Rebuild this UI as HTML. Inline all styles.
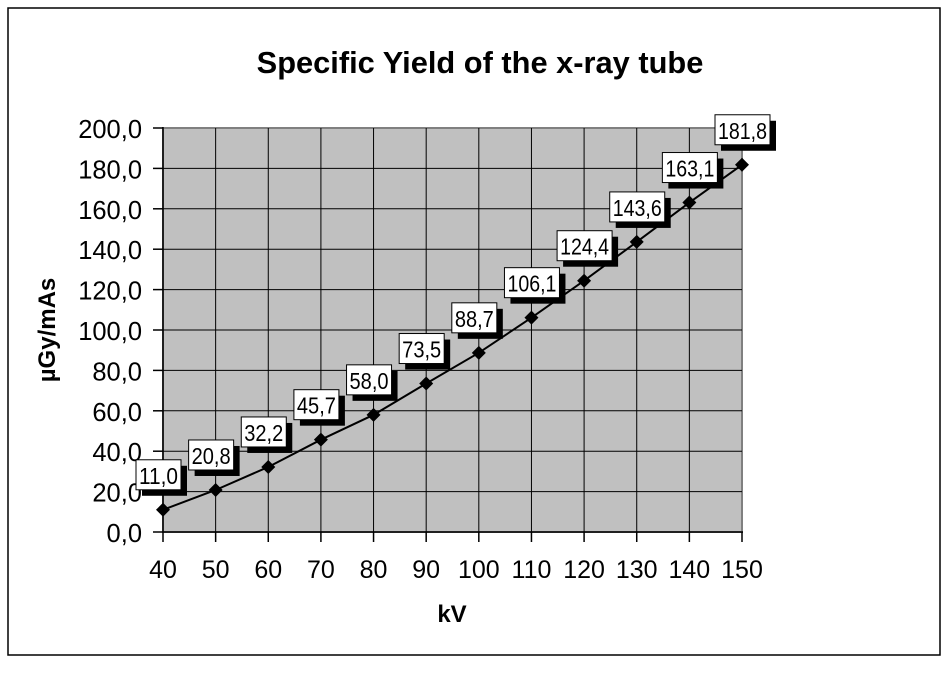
<!DOCTYPE html>
<html><head><meta charset="utf-8"><style>
body{margin:0;background:#fff;width:947px;height:668px;overflow:hidden}
svg text{font-family:"Liberation Sans",Arial,sans-serif}
</style></head><body>
<svg id="chart" width="947" height="668">
<rect x="8" y="8" width="932" height="647" fill="#fff" stroke="#000" stroke-width="1.5"/>
<text x="480" y="73" text-anchor="middle" font-size="30.8" font-weight="bold">Specific Yield of the x-ray tube</text>
<rect x="163" y="128" width="579" height="404" fill="#c0c0c0" stroke="#808080" stroke-width="2"/>
<g id="grid"></g><g id="axes"></g>
<line x1="163" y1="127" x2="163" y2="532" stroke="#000" stroke-width="1.5"/>
<line x1="163" y1="532" x2="743" y2="532" stroke="#000" stroke-width="1.5"/>
<g id="series"></g><g id="labels"></g>
<text x="452" y="622" text-anchor="middle" font-size="24" font-weight="bold">kV</text>
<text transform="translate(55,330) rotate(-90)" text-anchor="middle" font-size="24" font-weight="bold">µGy/mAs</text>
</svg>
<script>
const categories=[40,50,60,70,80,90,100,110,120,130,140,150];
const values=[11.0,20.8,32.2,45.7,58.0,73.5,88.7,106.1,124.4,143.6,163.1,181.8];
const yTicks=[0,20,40,60,80,100,120,140,160,180,200];
const NS="http://www.w3.org/2000/svg";
const X=v=>163+(v-40)*(579/110), Y=v=>532-v*(404/200);
function mk(tag,attrs,parent,txt){const e=document.createElementNS(NS,tag);for(const k in attrs)e.setAttribute(k,attrs[k]);if(txt!==undefined)e.textContent=txt;document.getElementById(parent).appendChild(e);return e;}
const fmt=v=>v.toFixed(1).replace('.',',');
yTicks.forEach(t=>{
 if(t>0&&t<200){const l=mk('line',{x1:163,x2:742,y1:Y(t),y2:Y(t),stroke:'#000','stroke-width':1},'grid');
 
 }
 const tk=mk('line',{x1:153,x2:163,y1:Y(t),y2:Y(t),stroke:'#000','stroke-width':1.5},'axes');
 
 
 const tx=mk('text',{x:142,y:Y(t)+10,'text-anchor':'end','font-size':25.5},'axes',fmt(t));
 
 
});
categories.forEach(c=>{
 if(c>40&&c<150){const l=mk('line',{x1:X(c),x2:X(c),y1:128,y2:532,stroke:'#000','stroke-width':1},'grid');
 
 }
 const tk=mk('line',{x1:X(c),x2:X(c),y1:532,y2:542,stroke:'#000','stroke-width':1.5},'axes');
 
 
 const tx=mk('text',{x:X(c),y:578,'text-anchor':'middle','font-size':25},'axes',String(c));
 
 
});
let d='';categories.forEach((c,i)=>{d+=(i?'L':'M')+X(c)+','+Y(values[i]);});
const line=mk('path',{d:d,fill:'none',stroke:'#000','stroke-width':2},'series');


categories.forEach((c,i)=>{
 const x=X(c),y=Y(values[i]);
 const p=mk('polygon',{points:`${x},${y-7} ${x+7},${y} ${x},${y+7} ${x-7},${y}`,fill:'#000'},'series');
 
 
 const txt=fmt(values[i]);
 const w=txt.length*10+5,h=30,bx=x-27,by=y-50;
 const s=mk('rect',{x:bx+6,y:by+6,width:w,height:h,fill:'#000'},'labels');
 
 
 const r=mk('rect',{x:bx,y:by,width:w,height:h,fill:'#fff',stroke:'#000','stroke-width':1},'labels');
 
 
 const t=mk('text',{x:bx+w/2,y:by+24,'text-anchor':'middle','font-size':23,textLength:w-6,lengthAdjust:'spacingAndGlyphs'},'labels',txt);
 
 
});
</script>
</body></html>
